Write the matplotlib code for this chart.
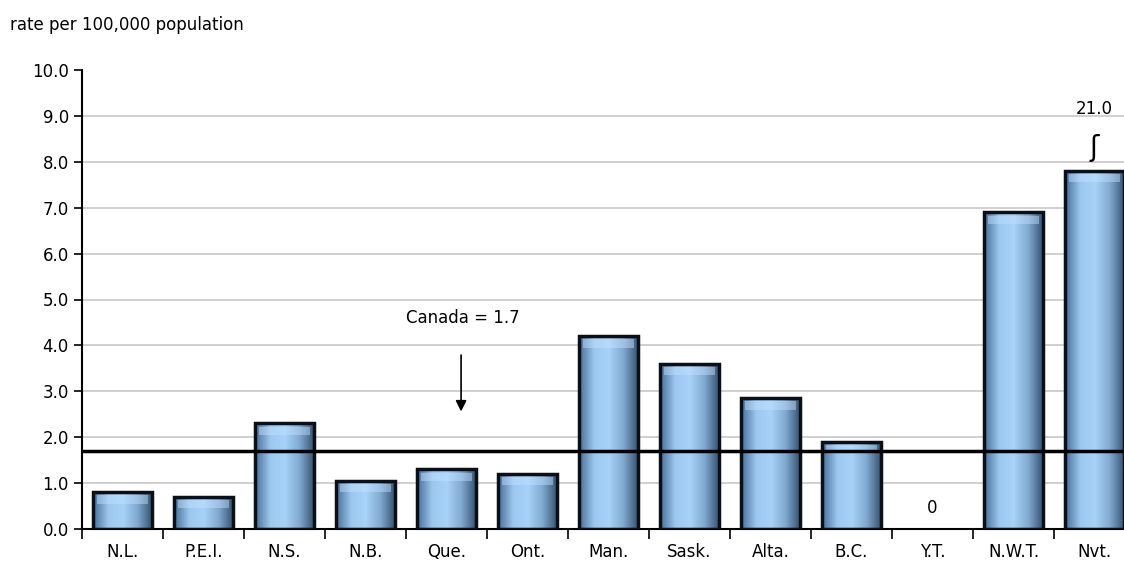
import numpy as np
import matplotlib
matplotlib.use("Agg")
import matplotlib.pyplot as plt
from matplotlib.colors import LinearSegmentedColormap

provinces = ["N.L.", "P.E.I.", "N.S.", "N.B.", "Que.", "Ont.", "Man.", "Sask.",
             "Alta.", "B.C.", "Y.T.", "N.W.T.", "Nvt."]
rates = [0.8, 0.7, 2.3, 1.05, 1.3, 1.2, 4.2, 3.6, 2.85, 1.9, 0.0, 6.9, 21.0]
canada = 1.7
y_cap = 7.8   # Nunavut bar is cut off at this height

plt.rcParams["font.family"] = "DejaVu Sans"
plt.rcParams["font.size"] = 12

fig = plt.figure(figsize=(11.24, 5.69), dpi=100)
ax = fig.add_axes([82 / 1124, 40 / 569, 1042 / 1124, 459 / 569])
xmax = -0.5 + 1042 / 81
ax.set_ylim(0, 10)

yt = np.arange(0, 10.5, 1.0)
ax.set_yticks(yt)
ax.set_yticklabels([f"{v:.1f}" for v in yt])
for v in yt[1:-1]:
    ax.axhline(v, color="#c8c8c8", lw=1.2, zorder=0)
# gap in gridline behind the Canada label
ax.add_patch(plt.Rectangle((2.9, 4.3), 2.9, 0.6, color="white", zorder=0.5))

cmap = LinearSegmentedColormap.from_list(
    "bar", ["#4a6f98", "#9cc8f0", "#a8d2f8", "#80a8d0", "#34506e"])
grad = np.linspace(0, 1, 64).reshape(1, -1)
w = 0.74
for i, v in enumerate(rates):
    h = min(v, y_cap)
    if h <= 0:
        ax.text(i, 0.45, "0", ha="center", va="center")
        continue
    ax.imshow(grad, cmap=cmap, aspect="auto", extent=(i - w / 2, i + w / 2, 0, h),
              zorder=2, interpolation="bicubic")
    ax.add_patch(plt.Rectangle((i - w / 2, 0), w, h, fill=False,
                               ec="#0a0f18", lw=2.5, zorder=3))
    ax.add_patch(plt.Rectangle((i - w / 2 + 0.06, h - 0.25), w - 0.12, 0.18,
                               color="#c4e2ff", alpha=0.45, lw=0, zorder=2.5))

nvt = len(rates) - 1
ax.text(nvt, 9.15, f"{rates[nvt]:.1f}", ha="center", va="center")
ax.text(nvt, 8.3, "ʃ", ha="center", va="center", fontsize=20)

ax.axhline(canada, color="black", lw=2.5, zorder=4)
ax.text(4.2, 4.6, f"Canada = {canada}", ha="center", va="center")
ax.annotate("", xy=(4.18, 2.5), xytext=(4.18, 3.85),
            arrowprops=dict(arrowstyle="-|>", color="black", lw=1.2, mutation_scale=16))

ax.set_xticks(np.arange(-0.5, len(rates), 1.0), minor=False)
ax.set_xticklabels([])
ax.set_xticks(range(len(rates)), minor=True)
ax.set_xticklabels(provinces, minor=True)
ax.set_xlim(-0.5, xmax)
ax.tick_params(axis="x", which="major", length=7, width=1.2)
ax.tick_params(axis="x", which="minor", length=0, pad=10)
ax.tick_params(axis="y", length=6, width=1.2)
for s in ["top", "right"]:
    ax.spines[s].set_visible(False)
for s in ["left", "bottom"]:
    ax.spines[s].set_linewidth(1.5)

fig.text(10 / 1124, 1 - 25 / 569, "rate per 100,000 population", va="center", fontsize=12)
fig.savefig("out.png", dpi=100)
